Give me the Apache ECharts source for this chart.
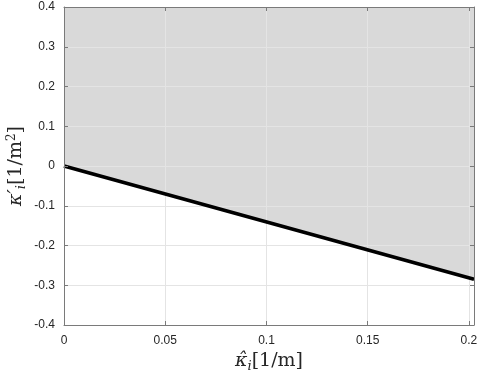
<!DOCTYPE html>
<html>
<head>
<meta charset="utf-8">
<script src="https://cdn.jsdelivr.net/npm/echarts@6/dist/echarts.min.js"></script>
<style>
  html, body { margin: 0; padding: 0; background: #fff; }
  #chart { width: 480px; height: 372px; }
</style>
</head>
<body>
<div id="chart"></div>
<script>
// data
const kappaHat = [0, 0.2025]
const kappaPrime = [0, -0.285]
const xTicks = [0, 0.05, 0.1, 0.15, 0.2]
const yTicks = [-0.4, -0.3, -0.2, -0.1, 0, 0.1, 0.2, 0.3, 0.4]

const xMin = 0, xMax = 0.2025
const yMin = -0.4, yMax = 0.4

const boxColor = '#7a7a7a'
const textColor = '#262626'
const gridColor = '#e4e4e4'

const lineData = kappaHat.map((x, i) => [x, kappaPrime[i]])

function fmt(v) {
  if (v === 0) return '0'
  return String(+v.toFixed(2))
}

const chart = echarts.init(document.getElementById('chart'))

const nameRich = {
  k: { fontFamily: 'DejaVu Serif', fontStyle: 'italic', fontSize: 19, color: textColor },
  s: { fontFamily: 'DejaVu Serif', fontStyle: 'italic', fontSize: 13, color: textColor, padding: [10, 0, 0, 0] },
  t: { fontFamily: 'DejaVu Serif', fontSize: 19, color: textColor },
  p: { fontFamily: 'DejaVu Serif', fontSize: 12, color: textColor, padding: [0, 0, 10, 0] }
}

// grey region: polygon from the curve up to the top of the y axis
function renderBand(params, api) {
  const pts = lineData.map(p => api.coord(p))
  for (let i = lineData.length - 1; i >= 0; i--) {
    pts.push(api.coord([lineData[i][0], yMax]))
  }
  return {
    type: 'polygon',
    shape: { points: pts },
    style: { fill: '#d9d9d9' },
    silent: true
  }
}

// main axes (bottom / left) with labels, top / right axes close the box,
// extra axes carry only the grid lines so they sit between fill and curve
const option = {
  animation: false,
  grid: { left: 64, right: 6, top: 7, bottom: 47, outerBoundsMode: 'none' },
  xAxis: [
    {
      type: 'value', min: xMin, max: xMax, interval: 0.05, position: 'bottom', z: 5,
      axisLine: { show: true, onZero: false, lineStyle: { color: boxColor, width: 1 } },
      axisTick: { show: true, inside: true, length: 4, lineStyle: { color: boxColor } },
      axisLabel: {
        color: textColor, fontFamily: 'Liberation Sans', fontSize: 12, margin: 10,
        showMaxLabel: false,
        formatter: v => xTicks.includes(+v.toFixed(2)) ? fmt(v) : ''
      },
      splitLine: { show: false },
      name: '{k|κ̂}{s|i}{t|[1/m]}', nameLocation: 'middle', nameGap: 25,
      nameMoveOverlap: false,
      nameTextStyle: { rich: nameRich }
    },
    {
      type: 'value', min: xMin, max: xMax, interval: 0.05, position: 'top', z: 5,
      axisLine: { show: true, onZero: false, lineStyle: { color: boxColor, width: 1 } },
      axisTick: { show: true, inside: true, length: 4, lineStyle: { color: boxColor } },
      axisLabel: { show: false },
      splitLine: { show: false }
    },
    {
      type: 'value', min: xMin, max: xMax, interval: 0.05, z: 1,
      axisLine: { show: false }, axisTick: { show: false }, axisLabel: { show: false },
      splitLine: { show: true, lineStyle: { color: gridColor, width: 1 } }
    }
  ],
  yAxis: [
    {
      type: 'value', min: yMin, max: yMax, interval: 0.1, position: 'left', z: 5,
      axisLine: { show: true, onZero: false, lineStyle: { color: boxColor, width: 1 } },
      axisTick: { show: true, inside: true, length: 4, lineStyle: { color: boxColor } },
      axisLabel: {
        color: textColor, fontFamily: 'Liberation Sans', fontSize: 12, margin: 9,
        formatter: v => fmt(v)
      },
      splitLine: { show: false },
      name: '{k|κ′}{s|i}{t|[1/m}{p|2}{t|]}', nameLocation: 'middle', nameGap: 36,
      nameMoveOverlap: false,
      nameTextStyle: { rich: nameRich }
    },
    {
      type: 'value', min: yMin, max: yMax, interval: 0.1, position: 'right', z: 5,
      axisLine: { show: true, onZero: false, lineStyle: { color: boxColor, width: 1 } },
      axisTick: { show: true, inside: true, length: 4, lineStyle: { color: boxColor } },
      axisLabel: { show: false },
      splitLine: { show: false }
    },
    {
      type: 'value', min: yMin, max: yMax, interval: 0.1, z: 1,
      axisLine: { show: false }, axisTick: { show: false }, axisLabel: { show: false },
      splitLine: { show: true, lineStyle: { color: gridColor, width: 1 } }
    }
  ],
  series: [
    {
      type: 'custom', data: [0], z: 0, silent: true,
      renderItem: renderBand
    },
    {
      type: 'line', data: lineData, z: 4,
      symbol: 'none',
      lineStyle: { color: '#000', width: 3.6 }
    }
  ]
}

chart.setOption(option)
</script>
</body>
</html>
